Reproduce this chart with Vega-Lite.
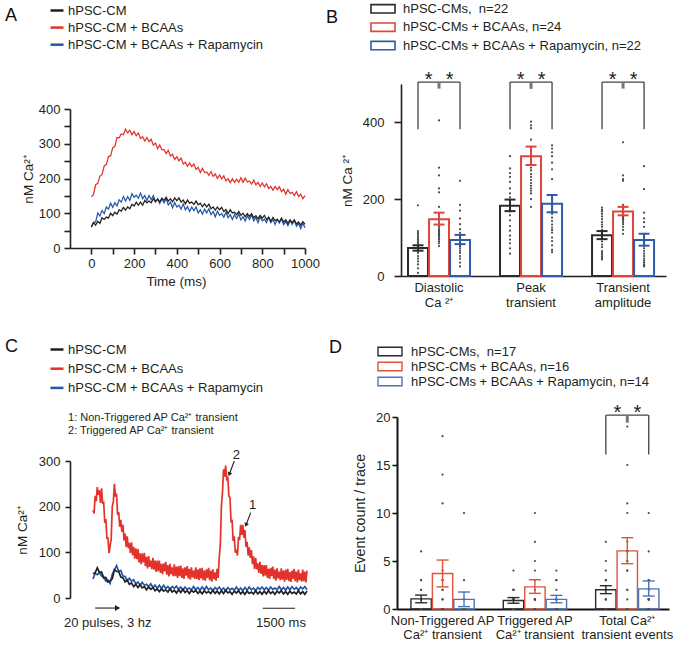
{
"$schema":"https://vega.github.io/schema/vega-lite/v6.json",
"background":"white",
"padding":{"left":5,"top":1,"right":0,"bottom":0},
"spacing":28,
"resolve":{"scale":{"color":"independent","xOffset":"independent"},"legend":{"color":"independent"}},
"config":{
 "font":"Liberation Sans",
 "view":{"stroke":null},
 "axis":{"grid":false,"domainColor":"#231f20","domainWidth":1.6,"tickColor":"#231f20","tickWidth":1.6,"labelFontSize":13,"labelColor":"#231f20","titleFontSize":13.5,"titleFontWeight":"normal","titleColor":"#231f20","labelFlush":false,"labelOverlap":false},
 "legend":{"labelFontSize":13,"labelColor":"#231f20","labelLimit":400,"symbolOpacity":1},
 "title":{"fontSize":18,"fontWeight":"normal","anchor":"start","frame":"group","color":"#111111"}
},
"datasets":{
"aTrace":[
{"t":0,"s":"b","v":61},{"t":10,"s":"b","v":74},{"t":20,"s":"b","v":75},{"t":30,"s":"b","v":101},{"t":40,"s":"b","v":92},{"t":50,"s":"b","v":108},{"t":60,"s":"b","v":99},{"t":70,"s":"b","v":118},{"t":80,"s":"b","v":112},{"t":90,"s":"b","v":129},
{"t":100,"s":"b","v":117},{"t":110,"s":"b","v":130},{"t":120,"s":"b","v":121},{"t":130,"s":"b","v":139},{"t":140,"s":"b","v":132},{"t":150,"s":"b","v":148},{"t":160,"s":"b","v":135},{"t":170,"s":"b","v":148},{"t":180,"s":"b","v":137},{"t":190,"s":"b","v":156},
{"t":200,"s":"b","v":146},{"t":210,"s":"b","v":152},{"t":220,"s":"b","v":143},{"t":230,"s":"b","v":158},{"t":240,"s":"b","v":142},{"t":250,"s":"b","v":151},{"t":260,"s":"b","v":137},{"t":270,"s":"b","v":151},{"t":280,"s":"b","v":139},{"t":290,"s":"b","v":151},
{"t":300,"s":"b","v":133},{"t":310,"s":"b","v":141},{"t":320,"s":"b","v":128},{"t":330,"s":"b","v":142},{"t":340,"s":"b","v":130},{"t":350,"s":"b","v":142},{"t":360,"s":"b","v":124},{"t":370,"s":"b","v":132},{"t":380,"s":"b","v":116},{"t":390,"s":"b","v":131},
{"t":400,"s":"b","v":118},{"t":410,"s":"b","v":123},{"t":420,"s":"b","v":112},{"t":430,"s":"b","v":127},{"t":440,"s":"b","v":110},{"t":450,"s":"b","v":119},{"t":460,"s":"b","v":105},{"t":470,"s":"b","v":118},{"t":480,"s":"b","v":107},{"t":490,"s":"b","v":118},
{"t":500,"s":"b","v":101},{"t":510,"s":"b","v":110},{"t":520,"s":"b","v":97},{"t":530,"s":"b","v":112},{"t":540,"s":"b","v":101},{"t":550,"s":"b","v":113},{"t":560,"s":"b","v":96},{"t":570,"s":"b","v":105},{"t":580,"s":"b","v":90},{"t":590,"s":"b","v":106},
{"t":600,"s":"b","v":94},{"t":610,"s":"b","v":99},{"t":620,"s":"b","v":89},{"t":630,"s":"b","v":103},{"t":640,"s":"b","v":87},{"t":650,"s":"b","v":96},{"t":660,"s":"b","v":82},{"t":670,"s":"b","v":96},{"t":680,"s":"b","v":85},{"t":690,"s":"b","v":98},
{"t":700,"s":"b","v":81},{"t":710,"s":"b","v":90},{"t":720,"s":"b","v":78},{"t":730,"s":"b","v":93},{"t":740,"s":"b","v":82},{"t":750,"s":"b","v":95},{"t":760,"s":"b","v":78},{"t":770,"s":"b","v":88},{"t":780,"s":"b","v":73},{"t":790,"s":"b","v":89},
{"t":800,"s":"b","v":78},{"t":810,"s":"b","v":83},{"t":820,"s":"b","v":73},{"t":830,"s":"b","v":89},{"t":840,"s":"b","v":73},{"t":850,"s":"b","v":82},{"t":860,"s":"b","v":68},{"t":870,"s":"b","v":83},{"t":880,"s":"b","v":72},{"t":890,"s":"b","v":84},
{"t":900,"s":"b","v":67},{"t":910,"s":"b","v":76},{"t":920,"s":"b","v":64},{"t":930,"s":"b","v":79},{"t":940,"s":"b","v":68},{"t":950,"s":"b","v":80},{"t":960,"s":"b","v":63},{"t":970,"s":"b","v":71},{"t":980,"s":"b","v":56},{"t":990,"s":"b","v":71},{"t":1000,"s":"b","v":58},
{"t":0,"s":"k","v":60},{"t":10,"s":"k","v":73},{"t":20,"s":"k","v":66},{"t":30,"s":"k","v":77},{"t":40,"s":"k","v":71},{"t":50,"s":"k","v":87},{"t":60,"s":"k","v":82},{"t":70,"s":"k","v":89},{"t":80,"s":"k","v":86},{"t":90,"s":"k","v":100},
{"t":100,"s":"k","v":93},{"t":110,"s":"k","v":103},{"t":120,"s":"k","v":97},{"t":130,"s":"k","v":110},{"t":140,"s":"k","v":106},{"t":150,"s":"k","v":117},{"t":160,"s":"k","v":109},{"t":170,"s":"k","v":118},{"t":180,"s":"k","v":113},{"t":190,"s":"k","v":126},
{"t":200,"s":"k","v":121},{"t":210,"s":"k","v":132},{"t":220,"s":"k","v":123},{"t":230,"s":"k","v":132},{"t":240,"s":"k","v":123},{"t":250,"s":"k","v":137},{"t":260,"s":"k","v":130},{"t":270,"s":"k","v":135},{"t":280,"s":"k","v":130},{"t":290,"s":"k","v":142},
{"t":300,"s":"k","v":133},{"t":310,"s":"k","v":141},{"t":320,"s":"k","v":133},{"t":330,"s":"k","v":143},{"t":340,"s":"k","v":137},{"t":350,"s":"k","v":146},{"t":360,"s":"k","v":135},{"t":370,"s":"k","v":142},{"t":380,"s":"k","v":133},{"t":390,"s":"k","v":144},
{"t":400,"s":"k","v":136},{"t":410,"s":"k","v":144},{"t":420,"s":"k","v":132},{"t":430,"s":"k","v":138},{"t":440,"s":"k","v":127},{"t":450,"s":"k","v":138},{"t":460,"s":"k","v":129},{"t":470,"s":"k","v":132},{"t":480,"s":"k","v":125},{"t":490,"s":"k","v":135},
{"t":500,"s":"k","v":124},{"t":510,"s":"k","v":129},{"t":520,"s":"k","v":119},{"t":530,"s":"k","v":127},{"t":540,"s":"k","v":118},{"t":550,"s":"k","v":126},{"t":560,"s":"k","v":113},{"t":570,"s":"k","v":118},{"t":580,"s":"k","v":109},{"t":590,"s":"k","v":118},
{"t":600,"s":"k","v":110},{"t":610,"s":"k","v":117},{"t":620,"s":"k","v":105},{"t":630,"s":"k","v":111},{"t":640,"s":"k","v":99},{"t":650,"s":"k","v":110},{"t":660,"s":"k","v":101},{"t":670,"s":"k","v":103},{"t":680,"s":"k","v":96},{"t":690,"s":"k","v":105},
{"t":700,"s":"k","v":94},{"t":710,"s":"k","v":100},{"t":720,"s":"k","v":90},{"t":730,"s":"k","v":99},{"t":740,"s":"k","v":91},{"t":750,"s":"k","v":99},{"t":760,"s":"k","v":87},{"t":770,"s":"k","v":93},{"t":780,"s":"k","v":84},{"t":790,"s":"k","v":94},
{"t":800,"s":"k","v":86},{"t":810,"s":"k","v":94},{"t":820,"s":"k","v":82},{"t":830,"s":"k","v":88},{"t":840,"s":"k","v":77},{"t":850,"s":"k","v":88},{"t":860,"s":"k","v":79},{"t":870,"s":"k","v":82},{"t":880,"s":"k","v":75},{"t":890,"s":"k","v":86},
{"t":900,"s":"k","v":75},{"t":910,"s":"k","v":81},{"t":920,"s":"k","v":71},{"t":930,"s":"k","v":81},{"t":940,"s":"k","v":73},{"t":950,"s":"k","v":81},{"t":960,"s":"k","v":69},{"t":970,"s":"k","v":75},{"t":980,"s":"k","v":66},{"t":990,"s":"k","v":76},{"t":1000,"s":"k","v":68},
{"t":0,"s":"r","v":147},{"t":10,"s":"r","v":154},{"t":20,"s":"r","v":182},{"t":30,"s":"r","v":186},{"t":40,"s":"r","v":207},{"t":50,"s":"r","v":211},{"t":60,"s":"r","v":236},{"t":70,"s":"r","v":240},{"t":80,"s":"r","v":263},{"t":90,"s":"r","v":265},
{"t":100,"s":"r","v":289},{"t":110,"s":"r","v":292},{"t":120,"s":"r","v":318},{"t":130,"s":"r","v":317},{"t":140,"s":"r","v":328},{"t":150,"s":"r","v":326},{"t":160,"s":"r","v":342},{"t":170,"s":"r","v":331},{"t":180,"s":"r","v":339},{"t":190,"s":"r","v":326},
{"t":200,"s":"r","v":335},{"t":210,"s":"r","v":323},{"t":220,"s":"r","v":331},{"t":230,"s":"r","v":315},{"t":240,"s":"r","v":320},{"t":250,"s":"r","v":308},{"t":260,"s":"r","v":318},{"t":270,"s":"r","v":306},{"t":280,"s":"r","v":313},{"t":290,"s":"r","v":296},
{"t":300,"s":"r","v":302},{"t":310,"s":"r","v":286},{"t":320,"s":"r","v":296},{"t":330,"s":"r","v":283},{"t":340,"s":"r","v":283},{"t":350,"s":"r","v":272},{"t":360,"s":"r","v":281},{"t":370,"s":"r","v":265},{"t":380,"s":"r","v":270},{"t":390,"s":"r","v":255},
{"t":400,"s":"r","v":263},{"t":410,"s":"r","v":251},{"t":420,"s":"r","v":259},{"t":430,"s":"r","v":242},{"t":440,"s":"r","v":247},{"t":450,"s":"r","v":235},{"t":460,"s":"r","v":245},{"t":470,"s":"r","v":234},{"t":480,"s":"r","v":242},{"t":490,"s":"r","v":226},
{"t":500,"s":"r","v":232},{"t":510,"s":"r","v":217},{"t":520,"s":"r","v":229},{"t":530,"s":"r","v":217},{"t":540,"s":"r","v":219},{"t":550,"s":"r","v":209},{"t":560,"s":"r","v":220},{"t":570,"s":"r","v":206},{"t":580,"s":"r","v":213},{"t":590,"s":"r","v":200},
{"t":600,"s":"r","v":210},{"t":610,"s":"r","v":199},{"t":620,"s":"r","v":208},{"t":630,"s":"r","v":193},{"t":640,"s":"r","v":199},{"t":650,"s":"r","v":188},{"t":660,"s":"r","v":199},{"t":670,"s":"r","v":189},{"t":680,"s":"r","v":198},{"t":690,"s":"r","v":189},
{"t":700,"s":"r","v":202},{"t":710,"s":"r","v":189},{"t":720,"s":"r","v":201},{"t":730,"s":"r","v":190},{"t":740,"s":"r","v":193},{"t":750,"s":"r","v":184},{"t":760,"s":"r","v":195},{"t":770,"s":"r","v":182},{"t":780,"s":"r","v":189},{"t":790,"s":"r","v":177},
{"t":800,"s":"r","v":187},{"t":810,"s":"r","v":176},{"t":820,"s":"r","v":185},{"t":830,"s":"r","v":171},{"t":840,"s":"r","v":177},{"t":850,"s":"r","v":166},{"t":860,"s":"r","v":177},{"t":870,"s":"r","v":168},{"t":880,"s":"r","v":176},{"t":890,"s":"r","v":162},
{"t":900,"s":"r","v":169},{"t":910,"s":"r","v":155},{"t":920,"s":"r","v":168},{"t":930,"s":"r","v":157},{"t":940,"s":"r","v":160},{"t":950,"s":"r","v":151},{"t":960,"s":"r","v":162},{"t":970,"s":"r","v":148},{"t":980,"s":"r","v":155},{"t":990,"s":"r","v":142},{"t":1000,"s":"r","v":151}
],
"cTrace":[
{"t":0,"s":"b","v":42},{"t":100,"s":"b","v":54},{"t":200,"s":"b","v":51},{"t":300,"s":"b","v":55},{"t":400,"s":"b","v":48},{"t":500,"s":"b","v":46},{"t":600,"s":"b","v":37},{"t":700,"s":"b","v":39},{"t":800,"s":"b","v":32},{"t":900,"s":"b","v":52},
{"t":1000,"s":"b","v":61},{"t":1100,"s":"b","v":71},{"t":1200,"s":"b","v":59},{"t":1300,"s":"b","v":60},{"t":1400,"s":"b","v":48},{"t":1500,"s":"b","v":47},{"t":1600,"s":"b","v":38},{"t":1700,"s":"b","v":43},{"t":1800,"s":"b","v":37},{"t":1900,"s":"b","v":40},
{"t":2000,"s":"b","v":31},{"t":2100,"s":"b","v":35},{"t":2200,"s":"b","v":28},{"t":2300,"s":"b","v":34},{"t":2400,"s":"b","v":28},{"t":2500,"s":"b","v":30},{"t":2600,"s":"b","v":25},{"t":2700,"s":"b","v":31},{"t":2800,"s":"b","v":23},{"t":2900,"s":"b","v":28},
{"t":3000,"s":"b","v":21},{"t":3100,"s":"b","v":28},{"t":3200,"s":"b","v":21},{"t":3300,"s":"b","v":28},{"t":3400,"s":"b","v":21},{"t":3500,"s":"b","v":25},{"t":3600,"s":"b","v":19},{"t":3700,"s":"b","v":25},{"t":3800,"s":"b","v":21},{"t":3900,"s":"b","v":26},
{"t":4000,"s":"b","v":19},{"t":4100,"s":"b","v":24},{"t":4200,"s":"b","v":17},{"t":4300,"s":"b","v":24},{"t":4400,"s":"b","v":19},{"t":4500,"s":"b","v":22},{"t":4600,"s":"b","v":18},{"t":4700,"s":"b","v":25},{"t":4800,"s":"b","v":18},{"t":4900,"s":"b","v":23},
{"t":5000,"s":"b","v":17},{"t":5100,"s":"b","v":24},{"t":5200,"s":"b","v":18},{"t":5300,"s":"b","v":25},{"t":5400,"s":"b","v":18},{"t":5500,"s":"b","v":22},{"t":5600,"s":"b","v":16},{"t":5700,"s":"b","v":23},{"t":5800,"s":"b","v":19},{"t":5900,"s":"b","v":24},
{"t":6000,"s":"b","v":17},{"t":6100,"s":"b","v":22},{"t":6200,"s":"b","v":16},{"t":6300,"s":"b","v":23},{"t":6400,"s":"b","v":18},{"t":6500,"s":"b","v":21},{"t":6600,"s":"b","v":17},{"t":6700,"s":"b","v":24},{"t":6800,"s":"b","v":17},{"t":6900,"s":"b","v":22},
{"t":7000,"s":"b","v":16},{"t":7100,"s":"b","v":23},{"t":7200,"s":"b","v":17},{"t":7300,"s":"b","v":24},{"t":7400,"s":"b","v":18},{"t":7500,"s":"b","v":22},{"t":7600,"s":"b","v":16},{"t":7700,"s":"b","v":23},{"t":7800,"s":"b","v":19},{"t":7900,"s":"b","v":24},
{"t":8000,"s":"b","v":18},{"t":8100,"s":"b","v":23},{"t":8200,"s":"b","v":17},{"t":8300,"s":"b","v":24},{"t":8400,"s":"b","v":19},{"t":8500,"s":"b","v":22},{"t":8600,"s":"b","v":18},{"t":8700,"s":"b","v":25},{"t":8800,"s":"b","v":18},{"t":8900,"s":"b","v":23},
{"t":9000,"s":"b","v":17},{"t":9100,"s":"b","v":24},{"t":9200,"s":"b","v":18},{"t":9300,"s":"b","v":25},{"t":9400,"s":"b","v":19},{"t":9500,"s":"b","v":23},{"t":9600,"s":"b","v":17},{"t":9700,"s":"b","v":24},{"t":9800,"s":"b","v":20},{"t":9900,"s":"b","v":25},{"t":10000,"s":"b","v":18},
{"t":0,"s":"k","v":53},{"t":100,"s":"k","v":55},{"t":200,"s":"k","v":66},{"t":300,"s":"k","v":56},{"t":400,"s":"k","v":57},{"t":500,"s":"k","v":44},{"t":600,"s":"k","v":45},{"t":700,"s":"k","v":35},{"t":800,"s":"k","v":38},{"t":900,"s":"k","v":42},
{"t":1000,"s":"k","v":62},{"t":1100,"s":"k","v":58},{"t":1200,"s":"k","v":58},{"t":1300,"s":"k","v":46},{"t":1400,"s":"k","v":44},{"t":1500,"s":"k","v":35},{"t":1600,"s":"k","v":39},{"t":1700,"s":"k","v":30},{"t":1800,"s":"k","v":33},{"t":1900,"s":"k","v":25},
{"t":2000,"s":"k","v":30},{"t":2100,"s":"k","v":23},{"t":2200,"s":"k","v":29},{"t":2300,"s":"k","v":22},{"t":2400,"s":"k","v":25},{"t":2500,"s":"k","v":18},{"t":2600,"s":"k","v":24},{"t":2700,"s":"k","v":19},{"t":2800,"s":"k","v":23},{"t":2900,"s":"k","v":16},
{"t":3000,"s":"k","v":20},{"t":3100,"s":"k","v":14},{"t":3200,"s":"k","v":20},{"t":3300,"s":"k","v":15},{"t":3400,"s":"k","v":18},{"t":3500,"s":"k","v":13},{"t":3600,"s":"k","v":20},{"t":3700,"s":"k","v":13},{"t":3800,"s":"k","v":17},{"t":3900,"s":"k","v":11},
{"t":4000,"s":"k","v":18},{"t":4100,"s":"k","v":12},{"t":4200,"s":"k","v":19},{"t":4300,"s":"k","v":12},{"t":4400,"s":"k","v":16},{"t":4500,"s":"k","v":10},{"t":4600,"s":"k","v":17},{"t":4700,"s":"k","v":13},{"t":4800,"s":"k","v":17},{"t":4900,"s":"k","v":10},
{"t":5000,"s":"k","v":15},{"t":5100,"s":"k","v":9},{"t":5200,"s":"k","v":16},{"t":5300,"s":"k","v":11},{"t":5400,"s":"k","v":14},{"t":5500,"s":"k","v":10},{"t":5600,"s":"k","v":17},{"t":5700,"s":"k","v":10},{"t":5800,"s":"k","v":15},{"t":5900,"s":"k","v":9},
{"t":6000,"s":"k","v":16},{"t":6100,"s":"k","v":10},{"t":6200,"s":"k","v":17},{"t":6300,"s":"k","v":11},{"t":6400,"s":"k","v":14},{"t":6500,"s":"k","v":8},{"t":6600,"s":"k","v":15},{"t":6700,"s":"k","v":11},{"t":6800,"s":"k","v":16},{"t":6900,"s":"k","v":9},
{"t":7000,"s":"k","v":14},{"t":7100,"s":"k","v":8},{"t":7200,"s":"k","v":15},{"t":7300,"s":"k","v":10},{"t":7400,"s":"k","v":13},{"t":7500,"s":"k","v":9},{"t":7600,"s":"k","v":16},{"t":7700,"s":"k","v":9},{"t":7800,"s":"k","v":14},{"t":7900,"s":"k","v":8},
{"t":8000,"s":"k","v":15},{"t":8100,"s":"k","v":9},{"t":8200,"s":"k","v":16},{"t":8300,"s":"k","v":10},{"t":8400,"s":"k","v":14},{"t":8500,"s":"k","v":8},{"t":8600,"s":"k","v":15},{"t":8700,"s":"k","v":11},{"t":8800,"s":"k","v":16},{"t":8900,"s":"k","v":9},
{"t":9000,"s":"k","v":14},{"t":9100,"s":"k","v":8},{"t":9200,"s":"k","v":15},{"t":9300,"s":"k","v":10},{"t":9400,"s":"k","v":13},{"t":9500,"s":"k","v":9},{"t":9600,"s":"k","v":16},{"t":9700,"s":"k","v":9},{"t":9800,"s":"k","v":14},{"t":9900,"s":"k","v":8},{"t":10000,"s":"k","v":15},
{"t":0,"s":"r","v":192},{"t":50,"s":"r","v":185},{"t":100,"s":"r","v":224},{"t":150,"s":"r","v":212},{"t":200,"s":"r","v":243},{"t":250,"s":"r","v":226},{"t":300,"s":"r","v":236},{"t":350,"s":"r","v":208},{"t":400,"s":"r","v":240},{"t":450,"s":"r","v":208},
{"t":500,"s":"r","v":209},{"t":550,"s":"r","v":165},{"t":600,"s":"r","v":173},{"t":650,"s":"r","v":131},{"t":700,"s":"r","v":131},{"t":750,"s":"r","v":98},{"t":800,"s":"r","v":114},{"t":850,"s":"r","v":129},{"t":900,"s":"r","v":200},{"t":950,"s":"r","v":211},
{"t":1000,"s":"r","v":250},{"t":1050,"s":"r","v":222},{"t":1100,"s":"r","v":229},{"t":1150,"s":"r","v":182},{"t":1200,"s":"r","v":188},{"t":1250,"s":"r","v":156},{"t":1300,"s":"r","v":171},{"t":1350,"s":"r","v":145},{"t":1400,"s":"r","v":160},{"t":1450,"s":"r","v":126},
{"t":1500,"s":"r","v":141},{"t":1550,"s":"r","v":112},{"t":1600,"s":"r","v":135},{"t":1650,"s":"r","v":109},{"t":1700,"s":"r","v":121},{"t":1750,"s":"r","v":99},{"t":1800,"s":"r","v":122},{"t":1850,"s":"r","v":94},{"t":1900,"s":"r","v":112},{"t":1950,"s":"r","v":86},
{"t":2000,"s":"r","v":109},{"t":2050,"s":"r","v":85},{"t":2100,"s":"r","v":107},{"t":2150,"s":"r","v":78},{"t":2200,"s":"r","v":98},{"t":2250,"s":"r","v":74},{"t":2300,"s":"r","v":98},{"t":2350,"s":"r","v":78},{"t":2400,"s":"r","v":99},{"t":2450,"s":"r","v":70},
{"t":2500,"s":"r","v":90},{"t":2550,"s":"r","v":65},{"t":2600,"s":"r","v":92},{"t":2650,"s":"r","v":68},{"t":2700,"s":"r","v":82},{"t":2750,"s":"r","v":63},{"t":2800,"s":"r","v":88},{"t":2850,"s":"r","v":62},{"t":2900,"s":"r","v":82},{"t":2950,"s":"r","v":57},
{"t":3000,"s":"r","v":82},{"t":3050,"s":"r","v":59},{"t":3100,"s":"r","v":82},{"t":3150,"s":"r","v":55},{"t":3200,"s":"r","v":75},{"t":3250,"s":"r","v":52},{"t":3300,"s":"r","v":76},{"t":3350,"s":"r","v":58},{"t":3400,"s":"r","v":79},{"t":3450,"s":"r","v":51},
{"t":3500,"s":"r","v":72},{"t":3550,"s":"r","v":47},{"t":3600,"s":"r","v":75},{"t":3650,"s":"r","v":52},{"t":3700,"s":"r","v":67},{"t":3750,"s":"r","v":48},{"t":3800,"s":"r","v":74},{"t":3850,"s":"r","v":48},{"t":3900,"s":"r","v":69},{"t":3950,"s":"r","v":44},
{"t":4000,"s":"r","v":70},{"t":4050,"s":"r","v":48},{"t":4100,"s":"r","v":71},{"t":4150,"s":"r","v":44},{"t":4200,"s":"r","v":65},{"t":4250,"s":"r","v":42},{"t":4300,"s":"r","v":67},{"t":4350,"s":"r","v":49},{"t":4400,"s":"r","v":70},{"t":4450,"s":"r","v":43},
{"t":4500,"s":"r","v":64},{"t":4550,"s":"r","v":40},{"t":4600,"s":"r","v":67},{"t":4650,"s":"r","v":45},{"t":4700,"s":"r","v":60},{"t":4750,"s":"r","v":42},{"t":4800,"s":"r","v":67},{"t":4850,"s":"r","v":42},{"t":4900,"s":"r","v":63},{"t":4950,"s":"r","v":39},
{"t":5000,"s":"r","v":65},{"t":5050,"s":"r","v":43},{"t":5100,"s":"r","v":66},{"t":5150,"s":"r","v":39},{"t":5200,"s":"r","v":60},{"t":5250,"s":"r","v":38},{"t":5300,"s":"r","v":63},{"t":5350,"s":"r","v":44},{"t":5400,"s":"r","v":66},{"t":5450,"s":"r","v":39},
{"t":5500,"s":"r","v":60},{"t":5550,"s":"r","v":36},{"t":5600,"s":"r","v":63},{"t":5650,"s":"r","v":41},{"t":5700,"s":"r","v":56},{"t":5750,"s":"r","v":38},{"t":5800,"s":"r","v":64},{"t":5850,"s":"r","v":44},{"t":5900,"s":"r","v":90},{"t":5950,"s":"r","v":116},
{"t":6000,"s":"r","v":202},{"t":6050,"s":"r","v":230},{"t":6100,"s":"r","v":282},{"t":6150,"s":"r","v":265},{"t":6200,"s":"r","v":290},{"t":6250,"s":"r","v":261},{"t":6300,"s":"r","v":266},{"t":6350,"s":"r","v":223},{"t":6400,"s":"r","v":220},{"t":6450,"s":"r","v":168},
{"t":6500,"s":"r","v":169},{"t":6550,"s":"r","v":125},{"t":6600,"s":"r","v":135},{"t":6650,"s":"r","v":99},{"t":6700,"s":"r","v":106},{"t":6750,"s":"r","v":93},{"t":6800,"s":"r","v":134},{"t":6850,"s":"r","v":127},{"t":6900,"s":"r","v":160},{"t":6950,"s":"r","v":138},
{"t":7000,"s":"r","v":160},{"t":7050,"s":"r","v":132},{"t":7100,"s":"r","v":149},{"t":7150,"s":"r","v":112},{"t":7200,"s":"r","v":123},{"t":7250,"s":"r","v":93},{"t":7300,"s":"r","v":111},{"t":7350,"s":"r","v":88},{"t":7400,"s":"r","v":105},{"t":7450,"s":"r","v":74},
{"t":7500,"s":"r","v":91},{"t":7550,"s":"r","v":63},{"t":7600,"s":"r","v":88},{"t":7650,"s":"r","v":63},{"t":7700,"s":"r","v":76},{"t":7750,"s":"r","v":55},{"t":7800,"s":"r","v":79},{"t":7850,"s":"r","v":53},{"t":7900,"s":"r","v":72},{"t":7950,"s":"r","v":47},
{"t":8000,"s":"r","v":72},{"t":8050,"s":"r","v":49},{"t":8100,"s":"r","v":72},{"t":8150,"s":"r","v":44},{"t":8200,"s":"r","v":64},{"t":8250,"s":"r","v":42},{"t":8300,"s":"r","v":66},{"t":8350,"s":"r","v":48},{"t":8400,"s":"r","v":69},{"t":8450,"s":"r","v":42},
{"t":8500,"s":"r","v":62},{"t":8550,"s":"r","v":38},{"t":8600,"s":"r","v":65},{"t":8650,"s":"r","v":43},{"t":8700,"s":"r","v":58},{"t":8750,"s":"r","v":39},{"t":8800,"s":"r","v":65},{"t":8850,"s":"r","v":40},{"t":8900,"s":"r","v":60},{"t":8950,"s":"r","v":36},
{"t":9000,"s":"r","v":62},{"t":9050,"s":"r","v":40},{"t":9100,"s":"r","v":64},{"t":9150,"s":"r","v":37},{"t":9200,"s":"r","v":57},{"t":9250,"s":"r","v":35},{"t":9300,"s":"r","v":60},{"t":9350,"s":"r","v":42},{"t":9400,"s":"r","v":64},{"t":9450,"s":"r","v":37},
{"t":9500,"s":"r","v":58},{"t":9550,"s":"r","v":34},{"t":9600,"s":"r","v":62},{"t":9650,"s":"r","v":39},{"t":9700,"s":"r","v":54},{"t":9750,"s":"r","v":36},{"t":9800,"s":"r","v":62},{"t":9850,"s":"r","v":37},{"t":9900,"s":"r","v":58},{"t":9950,"s":"r","v":34},{"t":10000,"s":"r","v":60}
],
"cLines":[{"t":6603,"v":300,"t2":6369,"v2":271},{"t":7369,"v":187,"t2":7150,"v2":160},{"t":100,"v":-22,"t2":1080,"v2":-22},{"t":7930,"v":-22.5,"t2":9437,"v2":-22.5}],
"cHeadDown":[{"t":6369,"v":271},{"t":7150,"v":160}],
"cHeadRight":[{"t":1145,"v":-22}],
"cText":[{"t":6696,"v":314,"txt":"2"},{"t":7453,"v":204,"txt":"1"},{"t":8785,"v":-55,"txt":"1500 ms"}],
"cTextL":[{"t":-1355,"v":-55,"txt":"20 pulses, 3 hz"}],
"cNotes":[{"t":-1168,"v":394,"txt":"1: Non-Triggered AP Ca²⁺ transient"},{"t":-1168,"v":366,"txt":"2: Triggered AP Ca²⁺ transient"}],
"bBars":[
{"g":"D","c":"k","m":73,"lo":66,"hi":80},{"g":"D","c":"r","m":148,"lo":134,"hi":165},{"g":"D","c":"b","m":94,"lo":83,"hi":107},
{"g":"P","c":"k","m":183,"lo":169,"hi":199},{"g":"P","c":"r","m":312,"lo":289,"hi":337},{"g":"P","c":"b","m":188,"lo":166,"hi":211},
{"g":"T","c":"k","m":106,"lo":96,"hi":117},{"g":"T","c":"r","m":168,"lo":158,"hi":180},{"g":"T","c":"b","m":94,"lo":79,"hi":110}
],
"bDots":[
{"g":"D","c":"k","v":184},{"g":"D","c":"k","v":117},{"g":"D","c":"k","v":112},{"g":"D","c":"k","v":108},{"g":"D","c":"k","v":103},{"g":"D","c":"k","v":99},{"g":"D","c":"k","v":95},{"g":"D","c":"k","v":91},{"g":"D","c":"k","v":87},{"g":"D","c":"k","v":84},{"g":"D","c":"k","v":80},{"g":"D","c":"k","v":76},{"g":"D","c":"k","v":72},{"g":"D","c":"k","v":69},{"g":"D","c":"k","v":65},{"g":"D","c":"k","v":60},{"g":"D","c":"k","v":52},{"g":"D","c":"k","v":45},{"g":"D","c":"k","v":38},{"g":"D","c":"k","v":30},{"g":"D","c":"k","v":20},{"g":"D","c":"k","v":8},
{"g":"D","c":"r","v":405},{"g":"D","c":"r","v":282},{"g":"D","c":"r","v":262},{"g":"D","c":"r","v":228},{"g":"D","c":"r","v":218},{"g":"D","c":"r","v":180},{"g":"D","c":"r","v":160},{"g":"D","c":"r","v":150},{"g":"D","c":"r","v":135},{"g":"D","c":"r","v":130},{"g":"D","c":"r","v":125},{"g":"D","c":"r","v":120},{"g":"D","c":"r","v":118},{"g":"D","c":"r","v":115},{"g":"D","c":"r","v":112},{"g":"D","c":"r","v":110},{"g":"D","c":"r","v":108},{"g":"D","c":"r","v":105},{"g":"D","c":"r","v":102},{"g":"D","c":"r","v":98},{"g":"D","c":"r","v":95},{"g":"D","c":"r","v":90},{"g":"D","c":"r","v":85},{"g":"D","c":"r","v":78},
{"g":"D","c":"b","v":248},{"g":"D","c":"b","v":185},{"g":"D","c":"b","v":170},{"g":"D","c":"b","v":150},{"g":"D","c":"b","v":135},{"g":"D","c":"b","v":122},{"g":"D","c":"b","v":112},{"g":"D","c":"b","v":105},{"g":"D","c":"b","v":100},{"g":"D","c":"b","v":95},{"g":"D","c":"b","v":92},{"g":"D","c":"b","v":88},{"g":"D","c":"b","v":85},{"g":"D","c":"b","v":80},{"g":"D","c":"b","v":77},{"g":"D","c":"b","v":72},{"g":"D","c":"b","v":66},{"g":"D","c":"b","v":60},{"g":"D","c":"b","v":52},{"g":"D","c":"b","v":45},{"g":"D","c":"b","v":35},{"g":"D","c":"b","v":25},
{"g":"P","c":"k","v":312},{"g":"P","c":"k","v":280},{"g":"P","c":"k","v":268},{"g":"P","c":"k","v":258},{"g":"P","c":"k","v":245},{"g":"P","c":"k","v":228},{"g":"P","c":"k","v":215},{"g":"P","c":"k","v":205},{"g":"P","c":"k","v":198},{"g":"P","c":"k","v":192},{"g":"P","c":"k","v":185},{"g":"P","c":"k","v":178},{"g":"P","c":"k","v":168},{"g":"P","c":"k","v":158},{"g":"P","c":"k","v":145},{"g":"P","c":"k","v":130},{"g":"P","c":"k","v":118},{"g":"P","c":"k","v":105},{"g":"P","c":"k","v":95},{"g":"P","c":"k","v":85},{"g":"P","c":"k","v":72},{"g":"P","c":"k","v":58},
{"g":"P","c":"r","v":490},{"g":"P","c":"r","v":402},{"g":"P","c":"r","v":392},{"g":"P","c":"r","v":385},{"g":"P","c":"r","v":355},{"g":"P","c":"r","v":335},{"g":"P","c":"r","v":325},{"g":"P","c":"r","v":315},{"g":"P","c":"r","v":305},{"g":"P","c":"r","v":300},{"g":"P","c":"r","v":295},{"g":"P","c":"r","v":290},{"g":"P","c":"r","v":282},{"g":"P","c":"r","v":275},{"g":"P","c":"r","v":265},{"g":"P","c":"r","v":258},{"g":"P","c":"r","v":250},{"g":"P","c":"r","v":242},{"g":"P","c":"r","v":235},{"g":"P","c":"r","v":228},{"g":"P","c":"r","v":222},{"g":"P","c":"r","v":215},{"g":"P","c":"r","v":200},{"g":"P","c":"r","v":180},
{"g":"P","c":"b","v":340},{"g":"P","c":"b","v":332},{"g":"P","c":"b","v":322},{"g":"P","c":"b","v":312},{"g":"P","c":"b","v":295},{"g":"P","c":"b","v":278},{"g":"P","c":"b","v":252},{"g":"P","c":"b","v":200},{"g":"P","c":"b","v":185},{"g":"P","c":"b","v":174},{"g":"P","c":"b","v":162},{"g":"P","c":"b","v":152},{"g":"P","c":"b","v":143},{"g":"P","c":"b","v":134},{"g":"P","c":"b","v":126},{"g":"P","c":"b","v":120},{"g":"P","c":"b","v":113},{"g":"P","c":"b","v":100},{"g":"P","c":"b","v":91},{"g":"P","c":"b","v":80},{"g":"P","c":"b","v":68},{"g":"P","c":"b","v":62},
{"g":"T","c":"k","v":178},{"g":"T","c":"k","v":172},{"g":"T","c":"k","v":168},{"g":"T","c":"k","v":162},{"g":"T","c":"k","v":155},{"g":"T","c":"k","v":148},{"g":"T","c":"k","v":140},{"g":"T","c":"k","v":134},{"g":"T","c":"k","v":128},{"g":"T","c":"k","v":120},{"g":"T","c":"k","v":113},{"g":"T","c":"k","v":105},{"g":"T","c":"k","v":98},{"g":"T","c":"k","v":90},{"g":"T","c":"k","v":82},{"g":"T","c":"k","v":75},{"g":"T","c":"k","v":65},{"g":"T","c":"k","v":60},{"g":"T","c":"k","v":55},{"g":"T","c":"k","v":50},{"g":"T","c":"k","v":47},{"g":"T","c":"k","v":43},
{"g":"T","c":"r","v":348},{"g":"T","c":"r","v":262},{"g":"T","c":"r","v":252},{"g":"T","c":"r","v":248},{"g":"T","c":"r","v":185},{"g":"T","c":"r","v":180},{"g":"T","c":"r","v":176},{"g":"T","c":"r","v":172},{"g":"T","c":"r","v":170},{"g":"T","c":"r","v":168},{"g":"T","c":"r","v":165},{"g":"T","c":"r","v":162},{"g":"T","c":"r","v":160},{"g":"T","c":"r","v":158},{"g":"T","c":"r","v":155},{"g":"T","c":"r","v":152},{"g":"T","c":"r","v":150},{"g":"T","c":"r","v":148},{"g":"T","c":"r","v":145},{"g":"T","c":"r","v":140},{"g":"T","c":"r","v":135},{"g":"T","c":"r","v":128},{"g":"T","c":"r","v":120},{"g":"T","c":"r","v":110},
{"g":"T","c":"b","v":286},{"g":"T","c":"b","v":226},{"g":"T","c":"b","v":165},{"g":"T","c":"b","v":150},{"g":"T","c":"b","v":140},{"g":"T","c":"b","v":128},{"g":"T","c":"b","v":110},{"g":"T","c":"b","v":100},{"g":"T","c":"b","v":95},{"g":"T","c":"b","v":90},{"g":"T","c":"b","v":85},{"g":"T","c":"b","v":78},{"g":"T","c":"b","v":72},{"g":"T","c":"b","v":65},{"g":"T","c":"b","v":58},{"g":"T","c":"b","v":52},{"g":"T","c":"b","v":45},{"g":"T","c":"b","v":40},{"g":"T","c":"b","v":35},{"g":"T","c":"b","v":30},{"g":"T","c":"b","v":28},{"g":"T","c":"b","v":25}
],
"bLegs":[{"g":"D","c":"k","y1":382,"y2":505},{"g":"D","c":"b","y1":382,"y2":505},{"g":"P","c":"k","y1":382,"y2":505},{"g":"P","c":"b","y1":382,"y2":505},{"g":"T","c":"k","y1":382,"y2":505},{"g":"T","c":"b","y1":382,"y2":505}],
"bTop":[{"g":"D","y":505},{"g":"P","y":505},{"g":"T","y":505}],
"bStub":[{"g":"D","c":"r","y1":488,"y2":505},{"g":"P","c":"r","y1":488,"y2":505},{"g":"T","c":"r","y1":488,"y2":505}],
"bStar":[{"g":"D","c":"r","y":494},{"g":"P","c":"r","y":494},{"g":"T","c":"r","y":494}],
"dBars":[
{"g":"N","c":"k","m":1.05,"lo":0.65,"hi":1.45},{"g":"N","c":"r","m":3.7,"lo":2.3,"hi":5.1},{"g":"N","c":"b","m":1.0,"lo":0.25,"hi":1.77},
{"g":"T","c":"k","m":0.88,"lo":0.6,"hi":1.19},{"g":"T","c":"r","m":2.3,"lo":1.63,"hi":3.05},{"g":"T","c":"b","m":1.0,"lo":0.65,"hi":1.42},
{"g":"S","c":"k","m":2.0,"lo":1.6,"hi":2.43},{"g":"S","c":"r","m":6.05,"lo":4.72,"hi":7.43},{"g":"S","c":"b","m":2.1,"lo":1.35,"hi":2.92}
],
"dDots":[
{"g":"N","c":"k","v":6},{"g":"N","c":"k","v":3},{"g":"N","c":"k","v":3},{"g":"N","c":"k","v":2},{"g":"N","c":"k","v":2},{"g":"N","c":"k","v":1},{"g":"N","c":"k","v":1},{"g":"N","c":"k","v":0},{"g":"N","c":"k","v":0},{"g":"N","c":"k","v":0},{"g":"N","c":"k","v":0},{"g":"N","c":"k","v":0},{"g":"N","c":"k","v":0},{"g":"N","c":"k","v":0},{"g":"N","c":"k","v":0},{"g":"N","c":"k","v":0},{"g":"N","c":"k","v":0},
{"g":"N","c":"r","v":18},{"g":"N","c":"r","v":14},{"g":"N","c":"r","v":11},{"g":"N","c":"r","v":4},{"g":"N","c":"r","v":3},{"g":"N","c":"r","v":3},{"g":"N","c":"r","v":2},{"g":"N","c":"r","v":2},{"g":"N","c":"r","v":1},{"g":"N","c":"r","v":1},{"g":"N","c":"r","v":0},{"g":"N","c":"r","v":0},{"g":"N","c":"r","v":0},{"g":"N","c":"r","v":0},{"g":"N","c":"r","v":0},{"g":"N","c":"r","v":0},
{"g":"N","c":"b","v":10},{"g":"N","c":"b","v":3},{"g":"N","c":"b","v":1},{"g":"N","c":"b","v":0},{"g":"N","c":"b","v":0},{"g":"N","c":"b","v":0},{"g":"N","c":"b","v":0},{"g":"N","c":"b","v":0},{"g":"N","c":"b","v":0},{"g":"N","c":"b","v":0},{"g":"N","c":"b","v":0},{"g":"N","c":"b","v":0},{"g":"N","c":"b","v":0},{"g":"N","c":"b","v":0},
{"g":"T","c":"k","v":4},{"g":"T","c":"k","v":2},{"g":"T","c":"k","v":2},{"g":"T","c":"k","v":2},{"g":"T","c":"k","v":2},{"g":"T","c":"k","v":1},{"g":"T","c":"k","v":1},{"g":"T","c":"k","v":1},{"g":"T","c":"k","v":0},{"g":"T","c":"k","v":0},{"g":"T","c":"k","v":0},{"g":"T","c":"k","v":0},{"g":"T","c":"k","v":0},{"g":"T","c":"k","v":0},{"g":"T","c":"k","v":0},{"g":"T","c":"k","v":0},{"g":"T","c":"k","v":0},
{"g":"T","c":"r","v":10},{"g":"T","c":"r","v":7},{"g":"T","c":"r","v":5},{"g":"T","c":"r","v":4},{"g":"T","c":"r","v":3},{"g":"T","c":"r","v":2},{"g":"T","c":"r","v":1},{"g":"T","c":"r","v":1},{"g":"T","c":"r","v":1},{"g":"T","c":"r","v":1},{"g":"T","c":"r","v":1},{"g":"T","c":"r","v":1},{"g":"T","c":"r","v":0},{"g":"T","c":"r","v":0},{"g":"T","c":"r","v":0},{"g":"T","c":"r","v":0},
{"g":"T","c":"b","v":4},{"g":"T","c":"b","v":3},{"g":"T","c":"b","v":3},{"g":"T","c":"b","v":2},{"g":"T","c":"b","v":1},{"g":"T","c":"b","v":1},{"g":"T","c":"b","v":0},{"g":"T","c":"b","v":0},{"g":"T","c":"b","v":0},{"g":"T","c":"b","v":0},{"g":"T","c":"b","v":0},{"g":"T","c":"b","v":0},{"g":"T","c":"b","v":0},{"g":"T","c":"b","v":0},
{"g":"S","c":"k","v":7},{"g":"S","c":"k","v":5},{"g":"S","c":"k","v":4},{"g":"S","c":"k","v":3},{"g":"S","c":"k","v":3},{"g":"S","c":"k","v":3},{"g":"S","c":"k","v":2},{"g":"S","c":"k","v":2},{"g":"S","c":"k","v":2},{"g":"S","c":"k","v":1},{"g":"S","c":"k","v":1},{"g":"S","c":"k","v":1},{"g":"S","c":"k","v":0},{"g":"S","c":"k","v":0},{"g":"S","c":"k","v":0},{"g":"S","c":"k","v":0},{"g":"S","c":"k","v":0},
{"g":"S","c":"r","v":19},{"g":"S","c":"r","v":15},{"g":"S","c":"r","v":11},{"g":"S","c":"r","v":10},{"g":"S","c":"r","v":7},{"g":"S","c":"r","v":6},{"g":"S","c":"r","v":6},{"g":"S","c":"r","v":5},{"g":"S","c":"r","v":5},{"g":"S","c":"r","v":4},{"g":"S","c":"r","v":4},{"g":"S","c":"r","v":2},{"g":"S","c":"r","v":2},{"g":"S","c":"r","v":1},{"g":"S","c":"r","v":0},{"g":"S","c":"r","v":0},
{"g":"S","c":"b","v":10},{"g":"S","c":"b","v":6},{"g":"S","c":"b","v":3},{"g":"S","c":"b","v":3},{"g":"S","c":"b","v":2},{"g":"S","c":"b","v":1},{"g":"S","c":"b","v":1},{"g":"S","c":"b","v":1},{"g":"S","c":"b","v":1},{"g":"S","c":"b","v":1},{"g":"S","c":"b","v":0},{"g":"S","c":"b","v":0},{"g":"S","c":"b","v":0},{"g":"S","c":"b","v":0}
],
"dLegs":[{"g":"S","c":"k","y1":16.1,"y2":20.2},{"g":"S","c":"b","y1":16.1,"y2":20.2}],
"dTop":[{"g":"S","y":20.2}],
"dStub":[{"g":"S","c":"r","y1":19.4,"y2":20.2}],
"dStar":[{"g":"S","c":"r","y":19.75}]
},
"vconcat":[
{"spacing":6,"resolve":{"scale":{"color":"independent","xOffset":"independent"},"legend":{"color":"independent"}},"hconcat":[
  {"width":235,"height":164,"data":{"name":"aTrace"},
   "title":{"text":"A","dx":-65,"offset":-22},
   "mark":{"type":"line","strokeWidth":1.25},
   "encoding":{
    "x":{"field":"t","type":"quantitative","scale":{"domain":[-100,1000],"nice":false,"zero":false},
     "axis":{"title":"Time (ms)","format":"d","values":[0,100,200,300,400,500,600,700,800,900,1000],"labelExpr":"datum.value % 200 === 0 ? datum.label : ''","tickSize":6,"labelPadding":3,"titlePadding":4,"titleX":106}},
    "y":{"field":"v","type":"quantitative","scale":{"domain":[0,400],"nice":false,"range":[164,25]},
     "axis":{"title":"nM Ca²⁺","values":[0,50,100,150,200,250,300,350,400],"labelExpr":"datum.value % 100 === 0 ? datum.label : ''","tickSize":6,"labelPadding":4,"titlePadding":3}},
    "color":{"field":"s","type":"nominal","scale":{"domain":["k","r","b"],"range":["#231f20","#e3322b","#2656a8"]},
     "legend":{"orient":"none","legendX":-21,"legendY":-81.5,"title":null,"symbolType":"stroke","symbolSize":169,"symbolStrokeWidth":2.5,"labelOffset":3,"rowPadding":2.1,
      "labelExpr":"datum.label == 'k' ? 'hPSC-CM' : datum.label == 'r' ? 'hPSC-CM + BCAAs' : 'hPSC-CM + BCAAs + Rapamycin'"}}
   }},
 {"width":265,"height":192,
  "title":{"text":"B","dx":-75,"offset":-24.7},
  "encoding":{"x":{"field":"g","type":"nominal","scale":{"domain":["D","P","T"],"paddingInner":0.326,"paddingOuter":0.103,"align":0.37},
   "axis":{"title":null,"ticks":false,"labelAngle":0,"labelPadding":5,"labelLineHeight":15,"labelExpr":"datum.label == 'D' ? ['Diastolic','Ca ²⁺'] : datum.label == 'P' ? ['Peak','transient'] : ['Transient','amplitude']"}}},
  "layer":[
   {"data":{"name":"bBars"},"mark":{"type":"bar","filled":false,"strokeWidth":2},
    "encoding":{"xOffset":{"field":"c","type":"nominal","scale":{"domain":["k","r","b"],"paddingInner":0.05,"paddingOuter":0}},
     "y":{"field":"m","type":"quantitative","title":"nM Ca ²⁺","scale":{"domain":[0,500],"nice":false},"axis":{"values":[0,100,200,300,400,500],"tickSize":7,"labelPadding":10,"titlePadding":8}},
     "color":{"field":"c","type":"nominal","scale":{"domain":["k","r","b"],"range":["#2b2b2b","#e0443a","#2f5ca8"]},
      "legend":{"orient":"none","legendX":-25,"legendY":-82.2,"title":null,"symbolType":"M-2,-0.7H2V0.7H-2Z","symbolSize":144,"symbolStrokeWidth":1.6,"symbolFillColor":"white","labelOffset":13,"rowPadding":2.4,
       "labelExpr":"datum.label == 'k' ? 'hPSC-CMs,\u00a0\u00a0n=22' : datum.label == 'r' ? 'hPSC-CMs + BCAAs, n=24' : 'hPSC-CMs + BCAAs + Rapamycin, n=22'"}}}},
   {"data":{"name":"bDots"},"mark":{"type":"circle","size":5,"color":"#4d4d4d","opacity":1},
    "encoding":{"xOffset":{"field":"c","type":"nominal"},"y":{"field":"v","type":"quantitative","title":"nM Ca ²⁺"}}},
   {"data":{"name":"bBars"},"mark":{"type":"rule","strokeWidth":2},
    "encoding":{"xOffset":{"field":"c","type":"nominal"},"y":{"field":"lo","type":"quantitative","title":"nM Ca ²⁺"},"y2":{"field":"hi"},"color":{"field":"c","type":"nominal"}}},
   {"data":{"name":"bBars"},"mark":{"type":"point","shape":"stroke","filled":false,"size":121,"strokeWidth":2,"opacity":1},
    "encoding":{"xOffset":{"field":"c","type":"nominal"},"y":{"field":"lo","type":"quantitative","title":"nM Ca ²⁺"},"color":{"field":"c","type":"nominal"}}},
   {"data":{"name":"bBars"},"mark":{"type":"point","shape":"stroke","filled":false,"size":121,"strokeWidth":2,"opacity":1},
    "encoding":{"xOffset":{"field":"c","type":"nominal"},"y":{"field":"hi","type":"quantitative","title":"nM Ca ²⁺"},"color":{"field":"c","type":"nominal"}}},
   {"data":{"name":"bLegs"},"mark":{"type":"rule","color":"#444444","strokeWidth":1.3},
    "encoding":{"xOffset":{"field":"c","type":"nominal"},"y":{"field":"y1","type":"quantitative","title":"nM Ca ²⁺"},"y2":{"field":"y2"}}},
   {"data":{"name":"bTop"},"mark":{"type":"point","shape":"stroke","filled":false,"size":1764,"strokeWidth":1.3,"color":"#444444","opacity":1},
    "encoding":{"y":{"field":"y","type":"quantitative","title":"nM Ca ²⁺"}}},
   {"data":{"name":"bStub"},"mark":{"type":"rule","color":"#777777","strokeWidth":3},
    "encoding":{"xOffset":{"field":"c","type":"nominal"},"y":{"field":"y1","type":"quantitative","title":"nM Ca ²⁺"},"y2":{"field":"y2"}}},
   {"data":{"name":"bStar"},"mark":{"type":"text","text":"*","fontSize":20,"dx":-10.5,"color":"#222222","baseline":"alphabetic"},
    "encoding":{"xOffset":{"field":"c","type":"nominal"},"y":{"field":"y","type":"quantitative","title":"nM Ca ²⁺"}}},
   {"data":{"name":"bStar"},"mark":{"type":"text","text":"*","fontSize":20,"dx":10.5,"color":"#222222","baseline":"alphabetic"},
    "encoding":{"xOffset":{"field":"c","type":"nominal"},"y":{"field":"y","type":"quantitative","title":"nM Ca ²⁺"}}}
  ]}
]},
{"spacing":18,"resolve":{"scale":{"color":"independent","xOffset":"independent"},"legend":{"color":"independent"}},"hconcat":[
  {"width":237,"height":181,
   "title":{"text":"C","dx":-65,"offset":-14},
   "layer":[
    {"data":{"name":"cTrace"},"mark":{"type":"line","strokeWidth":1.7},
     "encoding":{
      "x":{"field":"t","type":"quantitative","scale":{"domain":[-1075,10000],"nice":false,"zero":false},"axis":null},
      "y":{"field":"v","type":"quantitative","title":"nM Ca²⁺","scale":{"domain":[0,300],"nice":false,"range":[181,44]},"axis":{"values":[0,50,100,150,200,250,300],"tickSize":5,"labelPadding":5,"titlePadding":9}},
      "color":{"field":"s","type":"nominal","scale":{"domain":["k","r","b"],"range":["#231f20","#e3322b","#2656a8"]},
       "legend":{"orient":"none","legendX":-21,"legendY":-75.5,"title":null,"symbolType":"stroke","symbolSize":169,"symbolStrokeWidth":2.5,"labelOffset":3,"rowPadding":4.2,
        "labelExpr":"datum.label == 'k' ? 'hPSC-CM' : datum.label == 'r' ? 'hPSC-CM + BCAAs' : 'hPSC-CM + BCAAs + Rapamycin'"}}}},
    {"data":{"name":"cLines"},"mark":{"type":"rule","color":"#231f20","strokeWidth":1.1},
     "encoding":{"x":{"field":"t","type":"quantitative","scale":{"domain":[-1075,10000],"nice":false,"zero":false},"axis":null},"x2":{"field":"t2"},
      "y":{"field":"v","type":"quantitative","title":"nM Ca²⁺","scale":{"domain":[0,300],"nice":false,"range":[181,44]}},"y2":{"field":"v2"}}},
    {"data":{"name":"cHeadDown"},"mark":{"type":"point","shape":"triangle-down","angle":21,"size":22,"filled":true,"color":"#231f20","opacity":1},
     "encoding":{"x":{"field":"t","type":"quantitative","scale":{"domain":[-1075,10000],"nice":false,"zero":false},"axis":null},
      "y":{"field":"v","type":"quantitative","title":"nM Ca²⁺","scale":{"domain":[0,300],"nice":false,"range":[181,44]}}}},
    {"data":{"name":"cHeadRight"},"mark":{"type":"point","shape":"triangle-right","size":35,"filled":true,"color":"#231f20","opacity":1},
     "encoding":{"x":{"field":"t","type":"quantitative","scale":{"domain":[-1075,10000],"nice":false,"zero":false},"axis":null},
      "y":{"field":"v","type":"quantitative","title":"nM Ca²⁺","scale":{"domain":[0,300],"nice":false,"range":[181,44]}}}},
    {"data":{"name":"cText"},"mark":{"type":"text","fontSize":13,"align":"center","baseline":"middle","color":"#231f20"},
     "encoding":{"x":{"field":"t","type":"quantitative","scale":{"domain":[-1075,10000],"nice":false,"zero":false},"axis":null},
      "y":{"field":"v","type":"quantitative","title":"nM Ca²⁺","scale":{"domain":[0,300],"nice":false,"range":[181,44]}},"text":{"field":"txt","type":"nominal"}}},
    {"data":{"name":"cTextL"},"mark":{"type":"text","fontSize":13,"align":"left","baseline":"middle","color":"#231f20"},
     "encoding":{"x":{"field":"t","type":"quantitative","scale":{"domain":[-1075,10000],"nice":false,"zero":false},"axis":null},
      "y":{"field":"v","type":"quantitative","title":"nM Ca²⁺","scale":{"domain":[0,300],"nice":false,"range":[181,44]}},"text":{"field":"txt","type":"nominal"}}},
    {"data":{"name":"cNotes"},"mark":{"type":"text","fontSize":11,"align":"left","baseline":"middle","color":"#231f20"},
     "encoding":{"x":{"field":"t","type":"quantitative","scale":{"domain":[-1075,10000],"nice":false,"zero":false},"axis":null},
      "y":{"field":"v","type":"quantitative","title":"nM Ca²⁺","scale":{"domain":[0,300],"nice":false,"range":[181,44]}},"text":{"field":"txt","type":"nominal"}}}
   ]},
 {"width":272,"height":192,
  "title":{"text":"D","dx":-68,"offset":-12},
  "encoding":{"x":{"field":"g","type":"nominal","scale":{"domain":["N","T","S"],"paddingInner":0.315,"paddingOuter":0.13,"align":0.58},
   "axis":{"title":null,"ticks":false,"labelAngle":0,"labelPadding":5,"labelLineHeight":14,"domainWidth":2,"domainColor":"#111111","labelExpr":"datum.label == 'N' ? ['Non-Triggered AP','Ca²⁺ transient'] : datum.label == 'T' ? ['Triggered AP','Ca²⁺ transient'] : ['Total Ca²⁺','transient events']"}}},
  "layer":[
   {"data":{"name":"dBars"},"mark":{"type":"bar","filled":false,"strokeWidth":1.4},
    "encoding":{"xOffset":{"field":"c","type":"nominal","scale":{"domain":["k","r","b"],"paddingInner":0.05,"paddingOuter":0}},
     "y":{"field":"m","type":"quantitative","title":"Event count / trace","scale":{"domain":[0,20],"nice":false},"axis":{"values":[0,2.5,5,7.5,10,12.5,15,17.5,20],"labelExpr":"datum.value % 5 === 0 ? datum.label : ''","tickSize":5,"labelPadding":2,"titlePadding":8,"titleFontSize":14.3,"domainWidth":2,"domainColor":"#111111","tickColor":"#111111"}},
     "color":{"field":"c","type":"nominal","scale":{"domain":["k","r","b"],"range":["#2b2b2b","#e0533f","#4a74b8"]},
      "legend":{"orient":"none","legendX":-14,"legendY":-72.5,"title":null,"symbolType":"M-2,-0.7H2V0.7H-2Z","symbolSize":144,"symbolStrokeWidth":1.4,"symbolFillColor":"white","labelOffset":14,"rowPadding":1.0,
       "labelExpr":"datum.label == 'k' ? 'hPSC-CMs,\u00a0\u00a0n=17' : datum.label == 'r' ? 'hPSC-CMs + BCAAs, n=16' : 'hPSC-CMs + BCAAs + Rapamycin, n=14'"}}}},
   {"data":{"name":"dDots"},"mark":{"type":"circle","size":5,"color":"#4d4d4d","opacity":1},
    "encoding":{"xOffset":{"field":"c","type":"nominal"},"y":{"field":"v","type":"quantitative","title":"Event count / trace"}}},
   {"data":{"name":"dBars"},"mark":{"type":"rule","strokeWidth":1.4},
    "encoding":{"xOffset":{"field":"c","type":"nominal"},"y":{"field":"lo","type":"quantitative","title":"Event count / trace"},"y2":{"field":"hi"},"color":{"field":"c","type":"nominal"}}},
   {"data":{"name":"dBars"},"mark":{"type":"point","shape":"stroke","filled":false,"size":144,"strokeWidth":1.4,"opacity":1},
    "encoding":{"xOffset":{"field":"c","type":"nominal"},"y":{"field":"lo","type":"quantitative","title":"Event count / trace"},"color":{"field":"c","type":"nominal"}}},
   {"data":{"name":"dBars"},"mark":{"type":"point","shape":"stroke","filled":false,"size":144,"strokeWidth":1.4,"opacity":1},
    "encoding":{"xOffset":{"field":"c","type":"nominal"},"y":{"field":"hi","type":"quantitative","title":"Event count / trace"},"color":{"field":"c","type":"nominal"}}},
   {"data":{"name":"dLegs"},"mark":{"type":"rule","color":"#444444","strokeWidth":1.3},
    "encoding":{"xOffset":{"field":"c","type":"nominal"},"y":{"field":"y1","type":"quantitative","title":"Event count / trace"},"y2":{"field":"y2"}}},
   {"data":{"name":"dTop"},"mark":{"type":"point","shape":"stroke","filled":false,"size":1764,"strokeWidth":1.3,"color":"#444444","opacity":1},
    "encoding":{"y":{"field":"y","type":"quantitative","title":"Event count / trace"}}},
   {"data":{"name":"dStub"},"mark":{"type":"rule","color":"#777777","strokeWidth":3},
    "encoding":{"xOffset":{"field":"c","type":"nominal"},"y":{"field":"y1","type":"quantitative","title":"Event count / trace"},"y2":{"field":"y2"}}},
   {"data":{"name":"dStar"},"mark":{"type":"text","text":"*","fontSize":20,"dx":-10,"color":"#222222","baseline":"alphabetic"},
    "encoding":{"xOffset":{"field":"c","type":"nominal"},"y":{"field":"y","type":"quantitative","title":"Event count / trace"}}},
   {"data":{"name":"dStar"},"mark":{"type":"text","text":"*","fontSize":20,"dx":10,"color":"#222222","baseline":"alphabetic"},
    "encoding":{"xOffset":{"field":"c","type":"nominal"},"y":{"field":"y","type":"quantitative","title":"Event count / trace"}}}
  ]}
]}
]
}
